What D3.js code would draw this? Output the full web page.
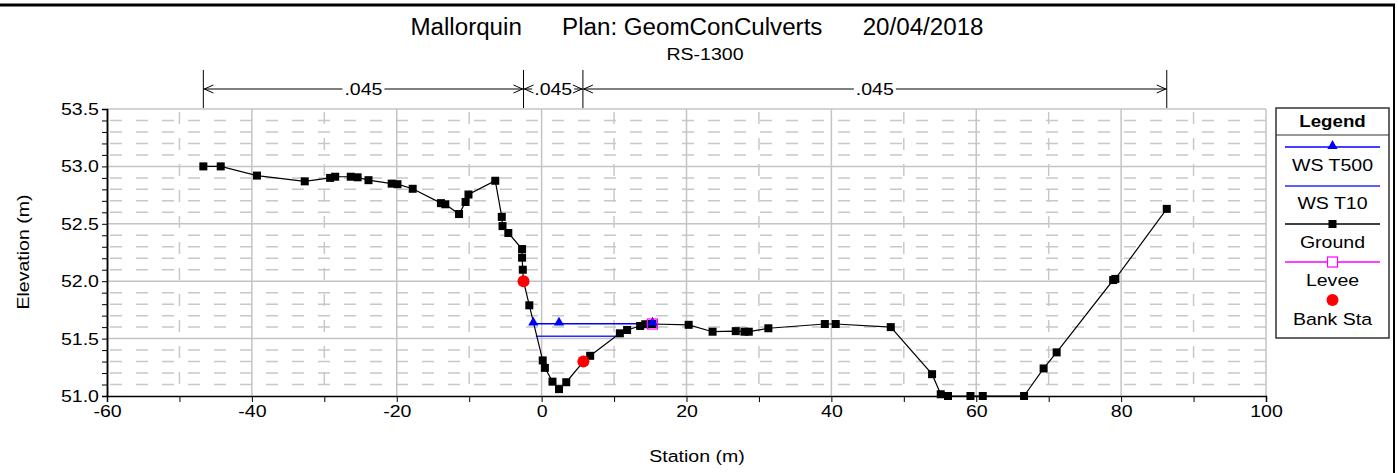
<html>
<head>
<style>
  body { margin: 0; background: #fff; }
  text { font-family: "Liberation Sans", Arial, sans-serif; fill: #000; }
  .grid-major { stroke: #c4c4c4; stroke-width: 1.5; }
  .grid-minor { stroke: #c8c8c8; stroke-width: 1.5; stroke-dasharray: 12,14; }
  .axis path, .axis line { stroke: #000; }
  .axis text { font-size: 17px; font-family: "Liberation Sans", Arial, sans-serif; fill: #000; }
</style>
</head>
<body>
<svg id="chart" width="1398" height="473"></svg>
<script src="https://d3js.org/d3.v7.min.js"></script>
<script>
// Ground profile (station m, elevation m)
let groundSta = [-46.7, -44.3, -39.3, -32.7, -29.2, -28.5, -26.35, -25.4, -23.9, -20.7, -19.9, -17.8,
  -13.9, -13.3, -11.4, -10.5, -10.1, -6.4, -5.5, -5.4, -4.6, -2.7, -2.7, -2.6, -2.5, -1.7,
  0.15, 0.45, 1.5, 2.4, 3.4, 5.76, 6.7, 10.8, 11.8, 13.6, 14.3, 15.3, 20.3, 23.6, 26.8, 28.0, 28.6,
  31.3, 39.1, 40.6, 48.2, 53.9, 55.1, 56.1, 59.2, 60.9, 66.6, 69.3, 71.1, 78.9, 79.2, 86.3]
let groundElev = [53.0, 53.0, 52.92, 52.87, 52.90, 52.91, 52.91, 52.905, 52.88, 52.85, 52.845, 52.805,
  52.68, 52.67, 52.585, 52.69, 52.755, 52.875, 52.56, 52.48, 52.42, 52.28, 52.205, 52.10, 52.0, 51.79,
  51.31, 51.245, 51.125, 51.06, 51.12, 51.30, 51.35, 51.546, 51.575, 51.61, 51.625, 51.627, 51.62, 51.56, 51.565, 51.56, 51.56,
  51.59, 51.627, 51.627, 51.60, 51.19, 51.015, 51.0, 51.0, 51.0, 51.0, 51.24, 51.38, 52.01, 52.02, 52.63]

// Water surfaces
let wsT500Sta = [-1.15, 2.4, 15.3]
let wsT500Elev = 51.63
let wsT10Sta = [-0.8, 10.4]
let wsT10Elev = 51.52

// Levee and bank stations
let leveeSta = [15.3]
let leveeElev = [51.627]
let bankSta = [-2.5, 5.76]
let bankElev = [52.0, 51.30]

// Manning's n regions
let nBounds = [-46.7, -2.5, 5.7, 86.3]
let nValues = [".045", ".045", ".045"]

// Axis ticks
let xTicks = [-60, -40, -20, 0, 20, 40, 60, 80, 100]
let yTicks = [51.0, 51.5, 52.0, 52.5, 53.0, 53.5]

let legendNames = ["WS T500", "WS T10", "Ground", "Levee", "Bank Sta"]

let svg = d3.select("#chart")
let x = d3.scaleLinear().domain([-60, 100]).range([107, 1266])
let y = d3.scaleLinear().domain([51, 53.5]).range([396, 109])

// the original text is drawn a bit wide, so stretch it horizontally
const SX = 1.15
function label(parent, px, py, str, size, anchor, sx, bold) {
  let t = parent.append("text")
    .attr("transform", `translate(${px},${py}) scale(${sx || SX},1)`)
    .attr("text-anchor", anchor || "middle")
    .style("font-size", size + "px")
    .attr("xml:space", "preserve")
    .text(str)
  if (bold) t.style("font-weight", "bold")
  return t
}

// frame
svg.append("line").attr("x1", 0).attr("x2", 1395).attr("y1", 5).attr("y2", 5)
  .attr("stroke", "#000").attr("stroke-width", 3)
svg.append("line").attr("x1", 1394).attr("x2", 1394).attr("y1", 5).attr("y2", 473)
  .attr("stroke", "#000").attr("stroke-width", 2)

// titles
label(svg, 697, 35, "Mallorquin      Plan: GeomConCulverts      20/04/2018", 23, "middle", 1.05)
label(svg, 705, 60, "RS-1300", 17)

// grid
let g = svg.append("g")
let yMinor = d3.range(51.1, 53.5, 0.1).filter(v => Math.abs(v * 2 - Math.round(v * 2)) > 0.01)
let yMajor = yTicks.slice(1)
g.selectAll(".hmin").data(yMinor).join("line").attr("class", "grid-minor")
  .attr("x1", x(-60) + 3).attr("x2", x(100)).attr("y1", d => y(d)).attr("y2", d => y(d))
g.selectAll(".hmaj").data(yMajor).join("line").attr("class", "grid-major")
  .attr("x1", x(-60)).attr("x2", x(100)).attr("y1", d => y(d)).attr("y2", d => y(d))
let xMinor = d3.range(-50, 100, 20)
g.selectAll(".vmin").data(xMinor).join("line").attr("class", "grid-minor")
  .attr("x1", d => x(d)).attr("x2", d => x(d)).attr("y1", y(53.5) + 3).attr("y2", y(51))
g.selectAll(".vmaj").data(xTicks.slice(1)).join("line").attr("class", "grid-major")
  .attr("x1", d => x(d)).attr("x2", d => x(d)).attr("y1", y(53.5)).attr("y2", y(51))

// axes
let ay = svg.append("g").attr("class", "axis").attr("transform", "translate(" + x(-60) + ",0)")
  .call(d3.axisLeft(y).tickValues(yTicks).tickFormat(d3.format(".1f")).tickSize(5).tickPadding(2))
svg.append("g").attr("class", "axis").attr("transform", "translate(" + x(-60) + ",0)")
  .call(d3.axisLeft(y).tickValues(yMinor).tickFormat("").tickSize(5).tickSizeOuter(0))
let ax = svg.append("g").attr("class", "axis").attr("transform", "translate(0," + y(51) + ")")
  .call(d3.axisBottom(x).tickValues(d3.range(-60, 101, 10))
    .tickFormat(d => d % 20 === 0 ? d : "").tickSize(6).tickPadding(3))
ay.selectAll("text").attr("transform", `scale(${SX},1)`)
ax.selectAll("text").attr("transform", `scale(${SX},1)`)
svg.selectAll(".axis .domain").attr("stroke-width", 1.5)

label(svg, 697, 462, "Station (m)", 17)
svg.append("text").attr("transform", "translate(29,252) rotate(-90) scale(" + SX + ",1)")
  .attr("text-anchor", "middle").style("font-size", "17px").text("Elevation (m)")

// Manning's n annotations
let nY = 89
svg.selectAll(".nb").data(nBounds).join("line")
  .attr("x1", d => x(d)).attr("x2", d => x(d)).attr("y1", 70).attr("y2", 108)
  .attr("stroke", "#000").attr("stroke-width", 1)
nValues.forEach((v, i) => {
  let a = x(nBounds[i]), b = x(nBounds[i + 1]), m = (a + b) / 2
  let t = label(svg, m, nY + 6, v, 17)
  let w = t.node().getComputedTextLength() * SX / 2 + 2
  svg.append("line").attr("x1", a).attr("x2", m - w).attr("y1", nY).attr("y2", nY).attr("stroke", "#000")
  svg.append("line").attr("x1", m + w).attr("x2", b).attr("y1", nY).attr("y2", nY).attr("stroke", "#000")
  // open arrowheads pointing to boundaries
  svg.append("path").attr("d", `M${a + 10},${nY - 4}L${a + 1},${nY}L${a + 10},${nY + 4}`)
    .attr("fill", "none").attr("stroke", "#000")
  svg.append("path").attr("d", `M${b - 10},${nY - 4}L${b - 1},${nY}L${b - 10},${nY + 4}`)
    .attr("fill", "none").attr("stroke", "#000")
})

// water surfaces
svg.append("line").attr("x1", x(d3.min(wsT10Sta))).attr("x2", x(d3.max(wsT10Sta)))
  .attr("y1", y(wsT10Elev)).attr("y2", y(wsT10Elev)).attr("stroke", "#2a2aff").attr("stroke-width", 1.5)
svg.append("line").attr("x1", x(d3.min(wsT500Sta))).attr("x2", x(d3.max(wsT500Sta)))
  .attr("y1", y(wsT500Elev)).attr("y2", y(wsT500Elev)).attr("stroke", "#0000ff").attr("stroke-width", 1.5)

// ground
let ground = groundSta.map((s, i) => ({ s: s, e: groundElev[i] }))
svg.append("path").datum(ground)
  .attr("d", d3.line().x(d => x(d.s)).y(d => y(d.e)))
  .attr("fill", "none").attr("stroke", "#000").attr("stroke-width", 1.2)
svg.selectAll(".gp").data(ground).join("rect")
  .attr("x", d => x(d.s) - 4).attr("y", d => y(d.e) - 4).attr("width", 8).attr("height", 8).attr("fill", "#000")

let tri = d3.symbol().type(d3.symbolTriangle).size(45)
svg.selectAll(".wt").data(wsT500Sta).join("path").attr("d", tri)
  .attr("transform", d => "translate(" + x(d) + "," + (y(wsT500Elev) - 1) + ")").attr("fill", "#0000ff")

// levee
svg.selectAll(".lv").data(leveeSta).join("rect")
  .attr("x", d => x(d) - 5).attr("y", (d, i) => y(leveeElev[i]) - 5).attr("width", 10).attr("height", 10)
  .attr("fill", "none").attr("stroke", "#ff00ff").attr("stroke-width", 1.2)

// bank stations
svg.selectAll(".bk").data(bankSta).join("circle")
  .attr("cx", d => x(d)).attr("cy", (d, i) => y(bankElev[i])).attr("r", 6).attr("fill", "#ff0000")

// legend
let lg = svg.append("g")
lg.append("rect").attr("x", 1276).attr("y", 108).attr("width", 113).attr("height", 230)
  .attr("fill", "#fff").attr("stroke", "#333").attr("stroke-width", 1.5)
lg.append("line").attr("x1", 1276).attr("x2", 1389).attr("y1", 135).attr("y2", 135).attr("stroke", "#333")
let lc = 1332.5
label(lg, lc, 127, "Legend", 17, "middle", 1.1, true)
let lineY = [147, 186, 224, 262, 300]
let textY = [171, 209, 248, 286, 325]
lineY.forEach((ly, i) => {
  if (i < 4) {
    let col = ["#0000ff", "#2a2aff", "#000", "#ff00ff"][i]
    lg.append("line").attr("x1", 1285).attr("x2", 1380).attr("y1", ly).attr("y2", ly)
      .attr("stroke", col).attr("stroke-width", 1.5)
  }
  if (i === 0) lg.append("path").attr("d", tri).attr("transform", `translate(${lc},${ly - 1})`).attr("fill", "#0000ff")
  if (i === 2) lg.append("rect").attr("x", lc - 4).attr("y", ly - 4).attr("width", 8).attr("height", 8).attr("fill", "#000")
  if (i === 3) lg.append("rect").attr("x", lc - 5).attr("y", ly - 5).attr("width", 10).attr("height", 10)
    .attr("fill", "#fff").attr("stroke", "#ff00ff").attr("stroke-width", 1.2)
  if (i === 4) lg.append("circle").attr("cx", lc).attr("cy", ly).attr("r", 6).attr("fill", "#ff0000")
  label(lg, lc, textY[i], legendNames[i], 17)
})
</script>
</body>
</html>
